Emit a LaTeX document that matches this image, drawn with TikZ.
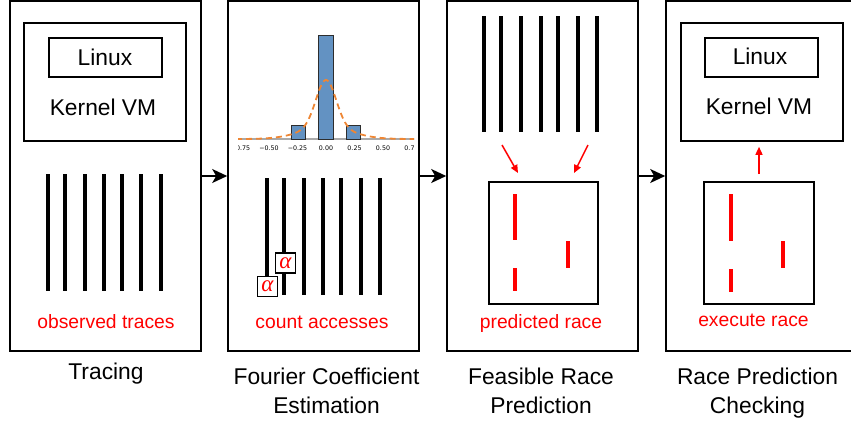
\documentclass[tikz,border=0pt]{standalone}
\usepackage{fontspec}
\setmainfont{Liberation Sans}
\newfontfamily\tickfont{DejaVu Sans}
\newfontfamily\greekfont{Liberation Serif}
\usetikzlibrary{arrows.meta}

\definecolor{barblue}{RGB}{99,146,194}
\definecolor{baredge}{RGB}{45,45,45}
\definecolor{kdeorange}{RGB}{238,134,52}
\definecolor{axisgray}{RGB}{170,170,170}

\begin{document}
\begin{tikzpicture}[x=1pt,y=-1pt,
  box/.style={draw, line width=1.6pt, inner sep=0pt},
  bigtext/.style={font=\fontsize{22.8}{29}\selectfont, anchor=base, inner sep=0pt},
  redtext/.style={font=\fontsize{19.3}{22}\selectfont, text=red, anchor=base, inner sep=0pt},
  trace/.style={line width=3.4pt},
  racebar/.style={red, line width=3.6pt},
  flow/.style={line width=1.6pt, -{Stealth[length=15pt,width=14pt,inset=4pt]}},
  redarrow/.style={red, line width=1.5pt, -{Triangle[length=8pt,width=7pt]}},
  alphabox/.style={draw, line width=1.9pt, fill=white, minimum size=20pt, inner sep=0pt,
                   text=red, font=\greekfont\itshape\fontsize{23}{23}\selectfont},
  tick/.style={font=\tickfont\fontsize{6.3}{7}\selectfont, inner sep=0pt},
  bar/.style={fill=barblue, draw=baredge, line width=1pt}
]
\useasboundingbox (0,0) rectangle (851,421);

% ---------- stage panels ----------
\node[box, minimum width=191pt, minimum height=350pt] (p1) at (105.5,176) {};
\node[box, minimum width=191pt, minimum height=350pt] (p2) at (323.5,176) {};
\node[box, minimum width=191pt, minimum height=350pt] (p3) at (542.5,176) {};
\node[box, minimum width=191pt, minimum height=350pt] (p4) at (761.5,176) {};

\draw[flow] (p1.east) -- (p2.west);
\draw[flow] (p2.east) -- (p3.west);
\draw[flow] (p3.east) -- (p4.west);

% ---------- stage 1: tracing ----------
\node[box, minimum width=162pt, minimum height=118pt] (kvm1) at (105,82) {};
\node[box, minimum width=113pt, minimum height=39pt] (lnx1) at (105.5,57.5) {};
\node[bigtext] (lnxt1) at (105,65) {Linux};
\node[bigtext] (kvmt1) at (103,115) {Kernel VM};
\foreach \x in {48,65,85,104,122,141,161}
  \draw[trace] (\x,174) -- (\x,291);
\node[redtext] (obs) at (106,328) {observed traces};
\node[bigtext] (lab1) at (106,379) {Tracing};

% ---------- stage 2: Fourier coefficient estimation ----------
\begin{scope}
  \clip (238,20) rectangle (414,156);
  \draw[axisgray, line width=1.5pt] (236,139) -- (416,139);
  \draw[bar] (291,139) rectangle (305,125);
  \draw[bar] (318,139) rectangle (333,35);
  \draw[bar] (346,139) rectangle (360,125);
  \draw[kdeorange, line width=1.8pt, dash pattern=on 6pt off 4pt]
    plot[domain=236:416, samples=160, smooth]
    (\x, {139 - 47*exp(-((\x-326)/10)^2/2) - 12*exp(-((\x-326)/25)^2/2)});
  \foreach \k/\t in {-3/{−0.75},-2/{−0.50},-1/{−0.25},0/{0.00},1/{0.25},2/{0.50},3/{0.75}}
    \node[tick] at ({326+28.5*\k},148) {\t};
\end{scope}
\foreach \x in {267,284,304,323,341,361,380}
  \draw[trace] (\x,178) -- (\x,295);
\node[alphabox] (a1) at (267.5,286.5) {α};
\node[alphabox] (a2) at (285.5,263) {α};
\node[redtext] (cnt) at (322,328) {count accesses};
\node[bigtext] (lab2a) at (326.5,384) {Fourier Coefficient};
\node[bigtext] (lab2b) at (326.5,413) {Estimation};

% ---------- stage 3: feasible race prediction ----------
\foreach \x in {484,501,521,541,558,578,597}
  \draw[trace] (\x,16) -- (\x,132);
\node[box, minimum width=109pt, minimum height=122pt] (rb3) at (543.5,243) {};
\coordinate (s3a) at (502,145);
\coordinate (e3a) at (518,173);
\coordinate (s3b) at (588,145);
\coordinate (e3b) at (574,173);
\draw[redarrow] (s3a) -- (e3a);
\draw[redarrow] (s3b) -- (e3b);
\draw[racebar] (515,194) -- (515,240);
\draw[racebar] (515,268) -- (515,291);
\draw[racebar] (568,241) -- (568,268);
\node[redtext] (pred) at (541,328) {predicted race};
\node[bigtext] (lab3a) at (541,384) {Feasible Race};
\node[bigtext] (lab3b) at (541,413) {Prediction};

% ---------- stage 4: race prediction checking ----------
\node[box, minimum width=162pt, minimum height=118pt] (kvm4) at (762,82) {};
\node[box, minimum width=113pt, minimum height=39pt] (lnx4) at (761.5,57.5) {};
\node[bigtext] (lnxt4) at (760,64) {Linux};
\node[bigtext] (kvmt4) at (759,114) {Kernel VM};
\node[box, minimum width=110pt, minimum height=122pt] (rb4) at (759,243) {};
\draw[redarrow, shorten <=7pt, shorten >=5pt] (rb4.north) -- (rb4.north |- kvm4.south);
\draw[racebar] (731,194) -- (731,241);
\draw[racebar] (731,269) -- (731,292);
\draw[racebar] (783,241) -- (783,268);
\node[redtext] (exe) at (753.5,326) {execute race};
\node[bigtext] (lab4a) at (757.5,384) {Race Prediction};
\node[bigtext] (lab4b) at (757.5,413) {Checking};
\end{tikzpicture}
\end{document}
